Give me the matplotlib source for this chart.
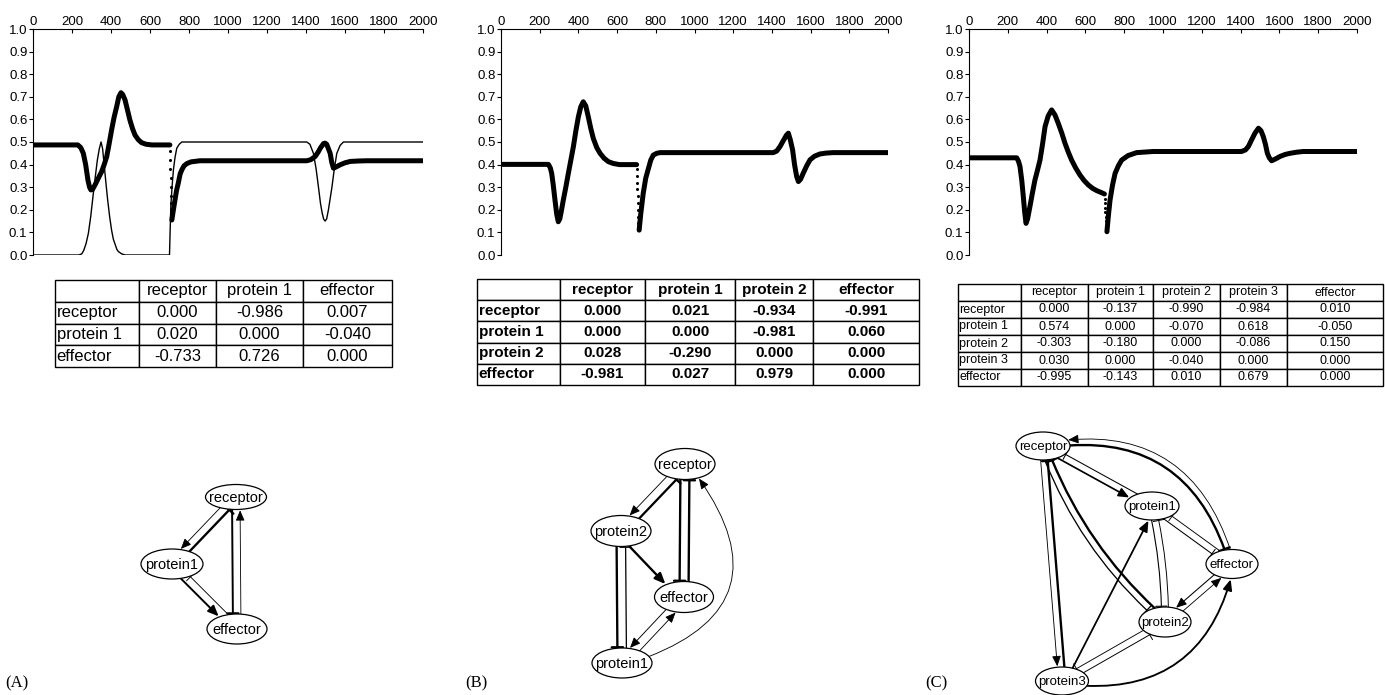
import numpy as np
import matplotlib
matplotlib.use("Agg")
import matplotlib.pyplot as plt
from matplotlib.patches import Ellipse, FancyArrowPatch

plt.rcParams['font.family'] = ['Liberation Sans', 'DejaVu Sans']
nan = np.nan

# ---- time courses ----
a_thick_x = [0, 230, 245, 258, 270, 282, 290, 297, 305, 318, 335, 352, 365, 378, 390, 403, 416, 429, 440, 451,
             460, 472, 485, 497, 510, 523, 540, 557, 580, 610, 702, nan,
             712, 720, 728, 736, 745, 755, 765, 775, 790, 810, 856, 1404, 1425, 1447, 1462, 1475, 1490, 1498,
             1506, 1515, 1524, 1532, 1541, 1555, 1575, 1600, 1627, 1670, 1712, 2000]
a_thick_y = [0.487, 0.487, 0.475, 0.45, 0.40, 0.33, 0.30, 0.288, 0.29, 0.31, 0.34, 0.369, 0.40, 0.435, 0.49, 0.553,
             0.61, 0.656, 0.70, 0.718, 0.71, 0.686, 0.64, 0.597, 0.56, 0.531, 0.51, 0.497, 0.49, 0.487, 0.487, nan,
             0.155, 0.20, 0.243, 0.285, 0.318, 0.36, 0.38, 0.395, 0.405, 0.412, 0.417, 0.417, 0.422, 0.436, 0.455,
             0.475, 0.493, 0.495, 0.49, 0.47, 0.45, 0.41, 0.384, 0.39, 0.399, 0.408, 0.414, 0.416, 0.417, 0.417]
a_drop_x = [703, 704, 705, 706, 707, 708, 709, 710, 711]
a_drop_y = [0.46, 0.42, 0.38, 0.34, 0.30, 0.26, 0.23, 0.20, 0.17]
a_thin_x = [0, 235, 250, 260, 272, 284, 296, 309, 320, 330, 340, 349, 357, 366, 375, 383, 393, 403, 412, 420,
            430, 438, 455, 472, 700, 703, 707, 713, 720, 728, 737, 750, 763,
            1404, 1420, 1438, 1452, 1464, 1474, 1482, 1490, 1498, 1506, 1515, 1524, 1533, 1545, 1558, 1575, 1592, 2000]
a_thin_y = [0, 0, 0.005, 0.02, 0.05, 0.096, 0.17, 0.27, 0.35, 0.42, 0.47, 0.50, 0.47, 0.39, 0.31, 0.243, 0.17,
            0.11, 0.07, 0.05, 0.025, 0.015, 0.005, 0, 0, 0.1, 0.22, 0.3, 0.376, 0.43, 0.472, 0.49, 0.5,
            0.5, 0.49, 0.45, 0.38, 0.3, 0.23, 0.19, 0.16, 0.15, 0.16, 0.2, 0.25, 0.3, 0.38, 0.45, 0.485, 0.5, 0.5]

b_x = [0, 245, 255, 262, 270, 279, 288, 296, 304, 312, 322, 335, 348, 361, 374, 387, 400, 412, 425, 438, 451,
       464, 477, 495, 512, 533, 555, 580, 612, 701, nan,
       714, 722, 735, 748, 761, 774, 787, 805, 822, 1407, 1425, 1442, 1455, 1465, 1475, 1485, 1495, 1507, 1517,
       1528, 1537, 1548, 1562, 1580, 1597, 1620, 1648, 1680, 1717, 2000]
b_y = [0.401, 0.401, 0.385, 0.361, 0.31, 0.243, 0.18, 0.147, 0.16, 0.195, 0.243, 0.30, 0.361, 0.42, 0.479, 0.55,
       0.612, 0.655, 0.678, 0.66, 0.612, 0.56, 0.516, 0.475, 0.45, 0.428, 0.413, 0.405, 0.40, 0.40, nan,
       0.11, 0.18, 0.273, 0.34, 0.38, 0.42, 0.442, 0.45, 0.453, 0.453, 0.46, 0.48, 0.50, 0.515, 0.53, 0.539, 0.51,
       0.465, 0.40, 0.347, 0.325, 0.335, 0.362, 0.395, 0.421, 0.437, 0.447, 0.451, 0.453, 0.453]
b_drop_x = [702, 703, 704, 705, 706, 707, 708, 709, 710]
b_drop_y = [0.38, 0.35, 0.32, 0.29, 0.26, 0.23, 0.20, 0.17, 0.14]

c_x = [0, 246, 255, 263, 272, 280, 287, 294, 302, 314, 327, 340, 353, 366, 379, 392, 408, 426, 443, 460, 478,
       495, 512, 529, 550, 572, 593, 615, 637, 658, 680, 698, nan,
       711, 718, 727, 740, 753, 770, 787, 820, 864, 950, 1405, 1425, 1440, 1457, 1474, 1492, 1505, 1517, 1528,
       1538, 1548, 1560, 1580, 1603, 1630, 1655, 1690, 1723, 2000]
c_y = [0.43, 0.43, 0.415, 0.391, 0.33, 0.258, 0.19, 0.14, 0.16, 0.214, 0.275, 0.332, 0.375, 0.42, 0.49, 0.568,
       0.615, 0.642, 0.62, 0.583, 0.54, 0.494, 0.455, 0.42, 0.385, 0.354, 0.33, 0.31, 0.295, 0.285, 0.277, 0.27, nan,
       0.103, 0.17, 0.243, 0.31, 0.361, 0.395, 0.42, 0.44, 0.453, 0.458, 0.458, 0.465, 0.48, 0.51, 0.539, 0.561,
       0.55, 0.524, 0.49, 0.45, 0.43, 0.417, 0.425, 0.436, 0.445, 0.45, 0.455, 0.458, 0.458]
c_drop_x = [700, 701, 702, 703, 704, 705, 706, 707, 708]
c_drop_y = [0.25, 0.23, 0.21, 0.19, 0.17, 0.15, 0.13, 0.115, 0.105]

# ---- weight tables (row = target, column = source) ----
a_names = ['receptor', 'protein 1', 'effector']
a_w = [[0.000, -0.986, 0.007],
       [0.020, 0.000, -0.040],
       [-0.733, 0.726, 0.000]]
b_names = ['receptor', 'protein 1', 'protein 2', 'effector']
b_w = [[0.000, 0.021, -0.934, -0.991],
       [0.000, 0.000, -0.981, 0.060],
       [0.028, -0.290, 0.000, 0.000],
       [-0.981, 0.027, 0.979, 0.000]]
c_names = ['receptor', 'protein 1', 'protein 2', 'protein 3', 'effector']
c_w = [[0.000, -0.137, -0.990, -0.984, 0.010],
       [0.574, 0.000, -0.070, 0.618, -0.050],
       [-0.303, -0.180, 0.000, -0.086, 0.150],
       [0.030, 0.000, -0.040, 0.000, 0.000],
       [-0.995, -0.143, 0.010, 0.679, 0.000]]

W, H = 1385, 695
fig = plt.figure(figsize=(W / 100, H / 100), dpi=100)


def fx(l, t, w, h):
    return [l / W, (H - t - h) / H, w / W, h / H]


def plot_panel(rect, series, drops):
    ax = fig.add_axes(fx(*rect))
    for x, y, lw in series:
        ax.plot(x, y, color='black', lw=lw, solid_joinstyle='round', solid_capstyle='round')
    for x, y in drops:
        ax.plot(x, y, 'o', color='black', ms=2.2, mew=0)
    ax.set_xlim(0, 2000)
    ax.set_ylim(0, 1.0)
    ax.xaxis.tick_top()
    ax.set_xticks(range(0, 2001, 200))
    ax.set_yticks(np.arange(0, 1.01, 0.1))
    ax.yaxis.set_major_formatter(plt.FormatStrFormatter('%.1f'))
    ax.spines['bottom'].set_visible(False)
    ax.spines['right'].set_visible(False)
    ax.tick_params(axis='x', direction='in', length=3, pad=1, labelsize=9.5)
    ax.tick_params(axis='y', direction='out', length=3, pad=1, labelsize=9.5)
    ax.set_facecolor('none')
    return ax


plot_panel((33, 29, 390, 226), [(a_thick_x, a_thick_y, 3.6), (a_thin_x, a_thin_y, 1.0)], [(a_drop_x, a_drop_y)])
plot_panel((501, 29, 387, 226), [(b_x, b_y, 3.6)], [(b_drop_x, b_drop_y)])
plot_panel((969, 29, 388, 226), [(c_x, c_y, 3.6)], [(c_drop_x, c_drop_y)])


def draw_table(rect, names, w, col_px, fs, weight):
    ax = fig.add_axes(fx(*rect))
    ax.axis('off')
    rows = [[''] + names] + [[n] + ['%.3f' % v for v in row] for n, row in zip(names, w)]
    tot = sum(col_px)
    tb = ax.table(cellText=rows, colWidths=[c / tot for c in col_px], cellLoc='center', bbox=[0, 0, 1, 1])
    tb.auto_set_font_size(False)
    for (r, c), cell in tb.get_celld().items():
        cell.set_linewidth(1.0)
        cell.set_edgecolor('black')
        cell.PAD = 0.02
        t = cell.get_text()
        t.set_fontsize(fs)
        t.set_fontweight(weight)
        t.set_horizontalalignment('left' if c == 0 else 'center')


draw_table((55, 280, 337, 87), a_names, a_w, [84, 77, 87, 89], 12, 'normal')
draw_table((477, 279, 442, 106), b_names, b_w, [83, 85, 90, 78, 106], 11, 'bold')
draw_table((958, 284, 425, 102), c_names, c_w, [63, 67, 65, 67, 67, 96], 9, 'normal')

# ---- networks ----
net = fig.add_axes([0, 0, 1, 1], zorder=-1)
net.set_xlim(0, W)
net.set_ylim(H, 0)
net.axis('off')

a_pos = {'receptor': (236, 497, 61, 25), 'protein 1': (172, 564, 62, 30), 'effector': (237, 629, 60, 30)}
b_pos = {'receptor': (685, 464, 60, 31), 'protein 2': (621, 531, 60, 31), 'effector': (684, 597, 59, 31),
         'protein 1': (622, 663, 60, 30)}
c_pos = {'receptor': (1043, 446, 54, 28), 'protein 1': (1152, 506, 54, 28), 'effector': (1232, 564, 52, 29),
         'protein 2': (1165, 622, 52, 30), 'protein 3': (1062, 681, 53, 28)}
c_curve = {('receptor', 'effector'): -0.45, ('receptor', 'protein 2'): 0.13,
           ('protein 3', 'effector'): 0.45, ('protein 1', 'protein 2'): -0.06}
b_curve = {('protein 1', 'receptor'): 0.72}


def draw_net(names, w, pos, curve, fs, sep):
    ells = {}
    for n in names:
        x, y, ew, eh = pos[n]
        e = Ellipse((x, y), ew, eh, fc='white', ec='black', lw=0.9, zorder=3)
        net.add_patch(e)
        ells[n] = e
        net.text(x, y + 1, n.replace(' ', ''), ha='center', va='center', fontsize=fs, zorder=4)
    for i, tgt in enumerate(names):
        for j, src in enumerate(names):
            v = w[i][j]
            if v == 0:
                continue
            x1, y1 = pos[src][:2]
            x2, y2 = pos[tgt][:2]
            d = np.hypot(x2 - x1, y2 - y1)
            ox, oy = -(y2 - y1) / d * sep, (x2 - x1) / d * sep
            rad = curve.get((src, tgt), None)
            if rad is None:
                rad = -curve.get((tgt, src), 0)
            if v > 0:
                style = '-|>,head_length=0.7,head_width=0.3'
            else:
                style = '-[,widthB=0.45,lengthB=0'
            a = FancyArrowPatch((x1 + ox, y1 + oy), (x2 + ox, y2 + oy), patchA=ells[src], patchB=ells[tgt],
                                shrinkA=0, shrinkB=1, arrowstyle=style, mutation_scale=9,
                                connectionstyle='arc3,rad=%.3f' % rad, lw=0.6 + 1.1 * abs(v),
                                color='black', zorder=2)
            net.add_patch(a)


draw_net(a_names, a_w, a_pos, {}, 10.5, 4)
draw_net(b_names, b_w, b_pos, b_curve, 10.5, 4.5)
draw_net(c_names, c_w, c_pos, c_curve, 9.5, 3.5)

for lab, x in [('(A)', 5), ('(B)', 465), ('(C)', 925)]:
    fig.text(x / W, 1 - 683 / H, lab, family='Liberation Serif', fontsize=12, va='center', ha='left')

fig.savefig('out.png', dpi=100)
